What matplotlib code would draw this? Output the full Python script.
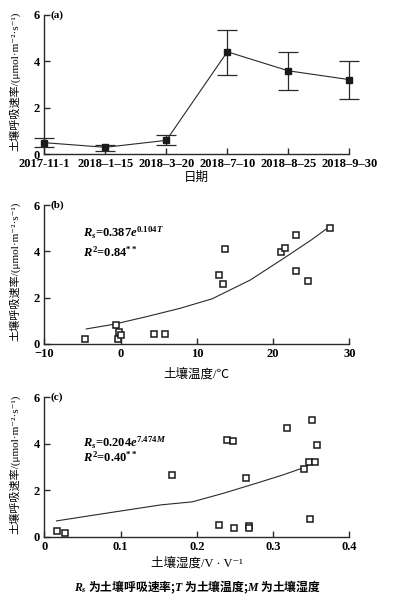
import numpy as np
import matplotlib.pyplot as plt

plt.rcParams['font.family'] = ['Liberation Serif', 'Noto Sans CJK SC', 'DejaVu Sans']
plt.rcParams['font.weight'] = 'bold'
plt.rcParams['mathtext.fontset'] = 'custom'
plt.rcParams['mathtext.rm'] = 'Liberation Serif:bold'
plt.rcParams['mathtext.it'] = 'Liberation Serif:italic:bold'
plt.rcParams['mathtext.bf'] = 'Liberation Serif:bold'

# (a) time series
dates = ['2017-11-1', '2018\u20131\u201315', '2018\u20133\u201320', '2018\u20137\u201310', '2018\u20138\u201325', '2018\u20139\u201330']
rs_mean = [0.49, 0.29, 0.59, 4.41, 3.59, 3.21]
rs_hi = [0.71, 0.40, 0.82, 5.36, 4.42, 4.01]
rs_lo = [0.29, 0.14, 0.40, 3.41, 2.78, 2.38]

# (b) soil temperature vs Rs
temp = [-4.67, -0.56, -0.38, -0.16, 0.01, 4.34, 5.83, 12.86, 13.48, 13.74,
        21.1, 21.5, 22.96, 22.96, 24.62, 27.5]
rs_t = [0.22, 0.82, 0.23, 0.52, 0.39, 0.42, 0.42, 3.0, 2.58, 4.1,
        3.96, 4.16, 4.72, 3.17, 2.72, 5.0]
fit_t_x = [-4.5, -0.9, 3.4, 7.8, 12.0, 17.0, 21.4, 25.0, 27.5]
fit_t_y = [0.65, 0.85, 1.18, 1.54, 1.95, 2.76, 3.70, 4.49, 5.09]

# (c) soil moisture vs Rs
moist = [0.017, 0.0275, 0.168, 0.229, 0.240, 0.248, 0.249, 0.264, 0.269, 0.269,
         0.318, 0.341, 0.347, 0.351, 0.348, 0.355, 0.358]
rs_m = [0.23, 0.14, 2.66, 0.49, 4.15, 4.1, 0.37, 2.53, 0.44, 0.36,
        4.69, 2.91, 3.2, 5.02, 0.78, 3.2, 3.95]
fit_m_x = [0.016, 0.065, 0.109, 0.153, 0.194, 0.235, 0.278, 0.313, 0.340, 0.355]
fit_m_y = [0.68, 0.93, 1.15, 1.37, 1.50, 1.87, 2.30, 2.66, 2.97, 3.23]

ylab = '土壤呼吸速率/(μmol·m\u207b\u00b2·s\u207b\u00b9)'
dark = '#2a2a2a'

fig = plt.figure(figsize=(3.95, 5.97), dpi=100)
axa = fig.add_axes([0.1122, 0.742, 0.7722, 0.233])
axb = fig.add_axes([0.1122, 0.4238, 0.7722, 0.2328])
axc = fig.add_axes([0.1122, 0.101, 0.7722, 0.2335])

def style(ax):
    for s in ['top', 'right']:
        ax.spines[s].set_visible(False)
    for s in ['left', 'bottom']:
        ax.spines[s].set_color(dark)
        ax.spines[s].set_linewidth(1.0)
    ax.tick_params(direction='in', length=4, width=1, color=dark, labelsize=9, pad=3)
    ax.set_ylim(0, 6)
    ax.set_yticks([0, 2, 4, 6])
    ax.set_ylabel(ylab, fontsize=8, labelpad=4)
    ax.yaxis.set_label_coords(-0.078, 0.52)

# panel a
xa = np.arange(len(dates))
err = [np.array(rs_mean) - np.array(rs_lo), np.array(rs_hi) - np.array(rs_mean)]
axa.errorbar(xa, rs_mean, yerr=err, color=dark, lw=0.8, ecolor=dark, elinewidth=0.9,
             capsize=7, capthick=0.9, marker='s', ms=5, mfc='#1a1a1a', mec='#1a1a1a',
             clip_on=False, zorder=3)
axa.set_xlim(0, 5)
axa.set_xticks(xa)
axa.set_xticklabels(dates)
style(axa)
axa.set_xlabel('日期', fontsize=9, labelpad=1)
axa.text(0.02, 1.0, '(a)', transform=axa.transAxes, fontsize=8, va='center')

# panel b
axb.plot(temp, rs_t, 's', ms=5, mfc='white', mec='#1a1a1a', mew=1.1, clip_on=False, zorder=3)
axb.plot(fit_t_x, fit_t_y, color=dark, lw=0.8)
axb.set_xlim(-10, 30)
axb.set_xticks([-10, 0, 10, 20, 30])
axb.set_xticklabels(['\u221210', '0', '10', '20', '30'])
style(axb)
axb.set_xlabel('土壤温度/℃', fontsize=9, labelpad=6)
axb.text(0.02, 1.0, '(b)', transform=axb.transAxes, fontsize=8, va='center')
axb.text(0.128, 0.80, '$R_s$=0.387$e^{0.104T}$', transform=axb.transAxes, fontsize=9, va='center')
axb.text(0.128, 0.66, '$R^2$=0.84$^{**}$', transform=axb.transAxes, fontsize=9, va='center')

# panel c
axc.plot(moist, rs_m, 's', ms=5, mfc='white', mec='#1a1a1a', mew=1.1, clip_on=False, zorder=3)
axc.plot(fit_m_x, fit_m_y, color=dark, lw=0.8)
axc.set_xlim(0, 0.4)
axc.set_xticks([0, 0.1, 0.2, 0.3, 0.4])
axc.set_xticklabels(['0', '0.1', '0.2', '0.3', '0.4'])
style(axc)
axc.set_xlabel('土壤湿度/V · V\u207b\u00b9', fontsize=9, labelpad=3)
axc.text(0.02, 1.0, '(c)', transform=axc.transAxes, fontsize=8, va='center')
axc.text(0.128, 0.675, '$R_s$=0.204$e^{7.474M}$', transform=axc.transAxes, fontsize=9, va='center')
axc.text(0.128, 0.57, '$R^2$=0.40$^{**}$', transform=axc.transAxes, fontsize=9, va='center')

# caption: CJK font first so the plain parts of the mathtext string get glyphs
fig.text(0.5, 0.016, '$R_s$ 为土壤呼吸速率;$T$ 为土壤温度;$M$ 为土壤湿度', ha='center',
         va='center', fontsize=8.5, family=['Noto Sans CJK SC'])

fig.savefig('out.png', dpi=100)
